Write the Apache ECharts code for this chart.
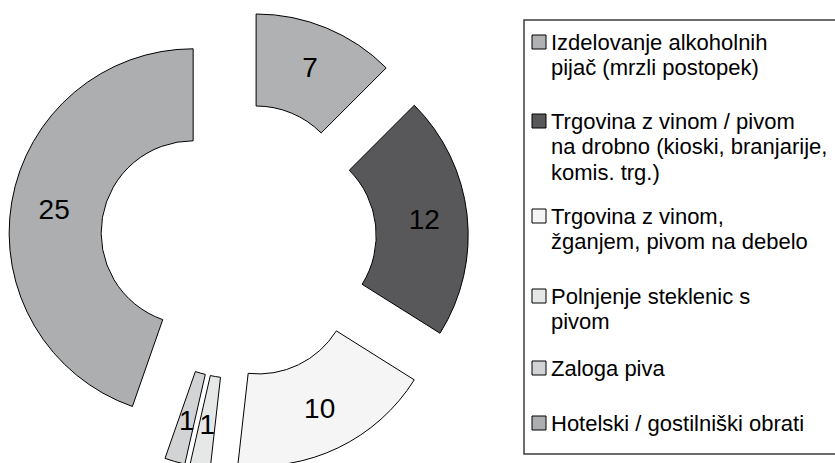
<!DOCTYPE html>
<html><head><meta charset="utf-8">
<script src="https://cdn.jsdelivr.net/npm/echarts@6/dist/echarts.min.js"></script>
<style>html,body{margin:0;padding:0;background:#fff}#c{width:835px;height:463px}</style>
</head><body><div id="c"></div>
<script>
const categories = [
  'Izdelovanje alkoholnih\npijač (mrzli postopek)',
  'Trgovina z vinom / pivom\nna drobno (kioski, branjarije,\nkomis. trg.)',
  'Trgovina z vinom,\nžganjem, pivom na debelo',
  'Polnjenje steklenic s\npivom',
  'Zaloga piva',
  'Hotelski / gostilniški obrati'
];
const values = [7, 12, 10, 1, 1, 25];
const colors = ['#b0b1b3', '#58585a', '#f5f5f5', '#e6e7e7', '#d2d3d5', '#adaeb0'];

// layout constants
const legendIconCenters = [42, 121, 216, 296, 368, 423];
const LH = 25.5, FS = 22, ICON = 14;
const FONT = 'Liberation Sans, Arial, sans-serif';

const chart = echarts.init(document.getElementById('c'), null, {renderer: 'svg'});

const legends = categories.map((name, i) => {
  const n = name.split('\n').length;
  const total = 2 * n - 1;
  const boxH = total * LH;
  const mainY = Math.min(0, ICON / 2 - boxH / 2);
  return {
    data: [name],
    formatter: function (nm) { return '\n'.repeat(n - 1) + nm; },
    left: 531.5,
    top: legendIconCenters[i] - ICON / 2 + mainY,
    padding: 0,
    itemWidth: ICON, itemHeight: ICON, icon: 'rect',
    textStyle: {fontFamily: FONT, fontSize: FS, color: '#000', lineHeight: LH, backgroundColor: 'rgba(255,255,255,0)'},
    selectedMode: false,
    itemStyle: {borderColor: '#000', borderWidth: 1}
  };
});

chart.setOption({
  animation: false,
  backgroundColor: '#fff',
  legend: legends,
  graphic: [{
    type: 'rect', shape: {x: 524, y: 20, width: 330, height: 434},
    style: {fill: 'none', stroke: '#3c3c3c', lineWidth: 1.5}, silent: true
  }],
  series: [{
    type: 'pie',
    center: [238.5, 240.5],
    radius: [92, 184],
    startAngle: 90,
    clockwise: true,
    avoidLabelOverlap: false,
    minShowLabelAngle: 0,
    labelLayout: {hideOverlap: false},
    selectedMode: 'multiple',
    selectedOffset: 46,
    data: categories.map((name, i) => ({name: name, value: values[i], selected: true, itemStyle: {color: colors[i]}})),
    itemStyle: {borderColor: '#000', borderWidth: 1},
    label: {show: true, position: 'inside', formatter: '{c}', color: '#000', fontSize: 28, fontFamily: FONT},
    labelLine: {show: false},
    emphasis: {disabled: true},
    select: {itemStyle: {borderColor: '#000', borderWidth: 1}}
  }]
});
</script>
</body></html>
